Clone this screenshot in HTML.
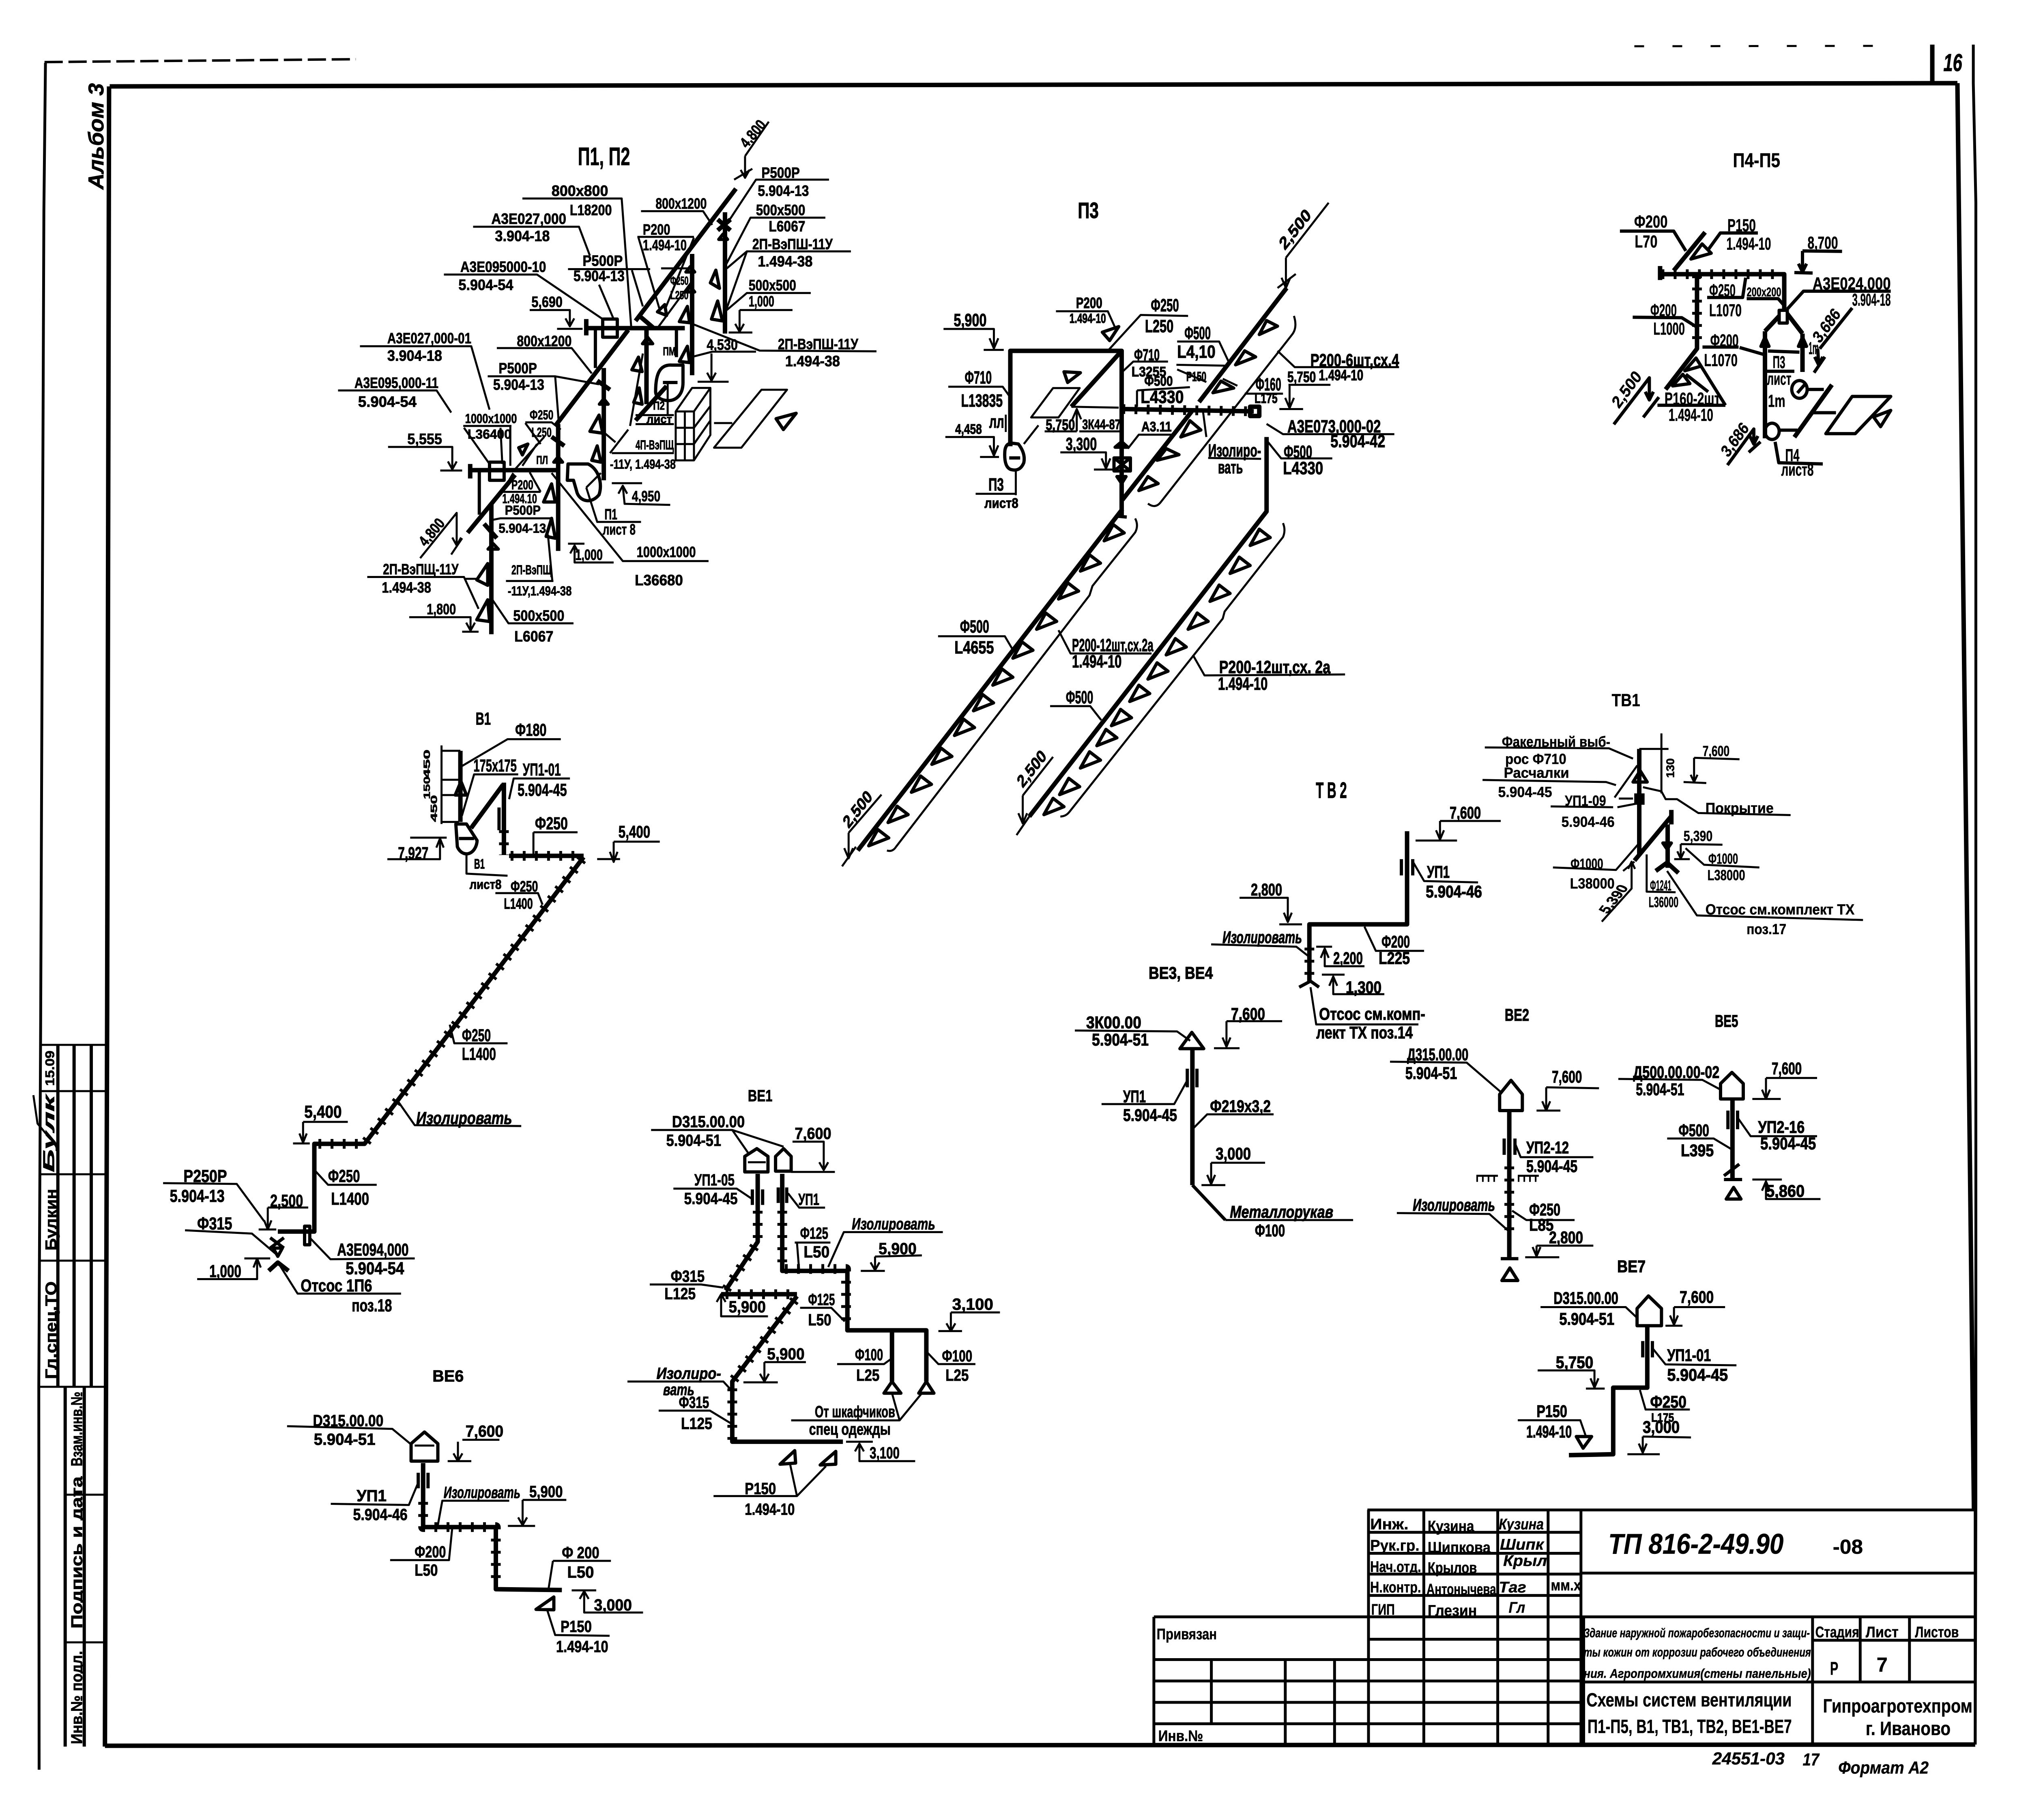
<!DOCTYPE html>
<html lang="ru"><head><meta charset="utf-8"><title>Схемы систем вентиляции</title>
<style>
html,body{margin:0;padding:0;background:#fff}
svg{display:block;width:6378px;height:4487px}
@media (min-width:3000px) and (max-width:6377px){html,body{overflow:hidden}svg{width:100vw}}
text{font-family:"Liberation Sans","DejaVu Sans",sans-serif;font-weight:700;fill:#000;stroke:#000;stroke-width:1.2}
path{fill:none;stroke:#000;stroke-width:5;vector-effect:non-scaling-stroke;stroke-linejoin:round}
.m{stroke-width:8}.b{stroke-width:11}
.c{stroke-width:24;stroke-dasharray:7 23}
.i{font-style:italic}
</style></head><body>
<svg xmlns="http://www.w3.org/2000/svg" viewBox="0 0 6378 4487" preserveAspectRatio="none">
<rect width="6378" height="4487" fill="#fff"/>

<!-- frame -->
<g>
<path style="stroke-width:7" d="M143,155 138,520 128,2500 122,3419 123,4363"/>
<path style="stroke-width:6;stroke-dasharray:45 14" d="M140,153 1119,146"/>
<path class="b" d="M345,213 6156,205M343,213 337,2500 330,4306M330,4304 6212,4301M6156,205 6208,3722"/>
<path style="stroke-width:7" d="M6206,110 6206,205 6214,500 6214,3700 6212,4301"/>
<path class="b" d="M6077,110 6077,205"/>
<path style="stroke-dasharray:24 70" d="M5140,114 5970,113"/>
<path d="M127,2576H337M127,2690H337M127,2895H337M127,3108H337M123,3419H330M205,3685H330M205,4049H330"/>
<path class="m" d="M182,2576V3419M233,2576V3419M287,2576V3419M205,3419V4306M265,3419V4306"/>
<path d="M105,2700 118,2770 150,2800"/>
<text class="i" x="6112" y="175" font-size="60" textLength="59" lengthAdjust="spacingAndGlyphs">16</text>
<text class="i" transform="translate(325,467) rotate(-90)" font-size="68" textLength="262" lengthAdjust="spacingAndGlyphs">Альбом 3</text>
<g font-size="50">
<text transform="translate(177,3400) rotate(-90)" textLength="241" lengthAdjust="spacingAndGlyphs">Гл.спец.ТО</text>
<text transform="translate(177,3083) rotate(-90)" textLength="152" lengthAdjust="spacingAndGlyphs">Булкин</text>
<text class="i" transform="translate(170,2890) rotate(-90)" textLength="190" lengthAdjust="spacingAndGlyphs">Булк</text>
<text transform="translate(170,2677) rotate(-90)" font-size="40" textLength="87" lengthAdjust="spacingAndGlyphs">15.09</text>
<text transform="translate(258,4300) rotate(-90)" textLength="230" lengthAdjust="spacingAndGlyphs">Инв.№ подл.</text>
<text transform="translate(258,4015) rotate(-90)" textLength="375" lengthAdjust="spacingAndGlyphs">Подпись и дата</text>
<text transform="translate(258,3615) rotate(-90)" textLength="184" lengthAdjust="spacingAndGlyphs">Взам.инв.№</text>
</g>
<!-- 5,400 level of B1 -->
<text x="1945" y="2065" font-size="42" textLength="100" lengthAdjust="spacingAndGlyphs">5,400</text>
<path d="M1930,2075H2075M1930,2075V2125M1878,2118H1950M1918,2100 1930,2125 1942,2100"/>
</g>

<!-- П1 П2 -->
<g transform="translate(1000,300) scale(1.148,.893)" font-size="42">
<path d="M1170,95 1235,0M1170,95V155M1140,160 1190,130M1115,290 1200,160H1400M885,247H1055L1080,285M1115,400 1185,265H1390M1120,405 1175,358H1460M1120,515 1175,358M1120,520 1175,473H1350M1155,520H1300M1155,520V580M1125,582H1190M1030,560 1210,632 1530,634M1030,648 1080,635H1200M1078,640V715M1040,718H1125M875,318H1030M878,320 935,515M1030,320 950,520M940,405H1030M930,570 1025,440M560,212H832L858,565M425,290H715L745,370M685,407H910M770,450 810,545M860,410 890,510M345,422H600L780,545M580,520H690V565M655,572H725M855,840 890,640M958,720V810M870,810H975M870,835H975M980,800H1030V935H980ZM1005,800V935M980,845H1030M980,890H1030M1030,800 1075,735V865L1030,935M980,800 1025,735H1075M1030,845 1075,785M1030,890 1075,825M1085,832H1135M1085,900 1215,740H1285L1160,900ZM800,915 850,850M805,915H975M815,885 780,855M490,625H695L750,695M465,703H650L770,725M650,705 660,835M115,620H420L470,795M55,742H325L365,803M398,840H530M400,845 470,945M500,845 505,945M527,840V950M568,830H640L665,850M568,832 610,890M535,965 620,870M560,950 600,890M192,898H368V960M335,963H395M505,1022H610M580,968 610,1022M535,970 505,1022M475,1100 500,1095H640M630,1140 642,1268M515,1268H645M280,1205 380,1080V1170M365,1195 395,1150M135,1257H400L440,1345M400,1262H435M250,1368H418V1405M395,1408H440M478,1320 522,1385H700M735,1010 775,970M735,1010 765,1105H885M640,970 835,1213H1070M805,998H888M835,1005 840,1055 965,1058M685,1165H730M703,1170V1217H810"/>
<path d="M1143,558 1155,580 1167,558M678,543 690,565 702,543M1066,693 1078,715 1090,693M356,938 368,960 380,938M368,1148 380,1170 392,1148M406,1383 418,1405 430,1383M823,1027 835,1005 847,1027M691,1192 703,1170 715,1192M1158,133 1170,155 1182,133"/>
<path class="m" d="M760,570V680M982,575V650M442,965V1085M945,720H985M1110,310l-12,15h24zM1090,410 1100,460 1075,445zM1095,495 1108,550 1078,545zM1020,400l-12,15h24zM1020,455l-12,15h24zM1012,510 1018,555 990,552zM1012,620 1018,665 990,662zM903,595l-14,18h28zM878,650 888,690 860,685zM880,735 888,780 865,775zM770,810 780,860 745,855zM765,895 775,940 750,935zM783,765l-12,15h24zM658,925l-12,15h24zM640,1000 650,1050 618,1050zM640,1095 650,1150 625,1145zM480,1165l-14,15h28zM465,1220V1280L435,1265zM465,1320 470,1380 435,1375zM550,900 575,890 560,920zM930,525 950,505 955,535zM780,545h40v50h-40zM470,940h40v50h-40zM925,745C925,690 940,670 970,672H1000V720C1000,755 980,770 960,770C940,770 925,760 925,745ZM685,945H740C770,960 780,1000 770,1030C750,1055 720,1050 710,1025L700,990H683Z"/>
<path class="m" d="M1255,820 1310,805 1275,850Z"/>
<path class="b" d="M870,550 1145,185M1115,250V585M1025,365V700M740,570H1005M735,545V590M650,840 850,575M900,570V780M783,680V990M415,962H660M417,945V985M410,1135 540,975M658,835V1185M475,1055V1415M870,825 955,730M1095,270 1130,300M1130,270 1095,300M885,540 920,570M765,715 800,740M640,870 675,895M455,1110 490,1150"/>
<text style="font-size:70px" x="712" y="120" textLength="143" lengthAdjust="spacingAndGlyphs">П1, П2</text>
<text x="1215" y="155" textLength="105" lengthAdjust="spacingAndGlyphs">Р500Р</text>
<text x="1205" y="205" textLength="140" lengthAdjust="spacingAndGlyphs">5.904-13</text>
<text x="925" y="240" textLength="140" lengthAdjust="spacingAndGlyphs">800x1200</text>
<text x="1200" y="258" textLength="135" lengthAdjust="spacingAndGlyphs">500x500</text>
<text x="1235" y="303" textLength="100" lengthAdjust="spacingAndGlyphs">L6067</text>
<text x="1190" y="352" textLength="220" lengthAdjust="spacingAndGlyphs">2П-ВэПШ-11У</text>
<text x="1205" y="400" textLength="150" lengthAdjust="spacingAndGlyphs">1.494-38</text>
<text x="1180" y="466" textLength="130" lengthAdjust="spacingAndGlyphs">500x500</text>
<text x="1180" y="510" textLength="70" lengthAdjust="spacingAndGlyphs">1,000</text>
<text x="1260" y="628" textLength="220" lengthAdjust="spacingAndGlyphs">2П-ВэПШ-11У</text>
<text x="1280" y="675" textLength="150" lengthAdjust="spacingAndGlyphs">1.494-38</text>
<text x="1065" y="630" textLength="85" lengthAdjust="spacingAndGlyphs">4,530</text>
<text x="890" y="312" textLength="75" lengthAdjust="spacingAndGlyphs">Р200</text>
<text x="890" y="355" textLength="120" lengthAdjust="spacingAndGlyphs">1.494-10</text>
<text style="font-size:32px" x="965" y="450" textLength="50" lengthAdjust="spacingAndGlyphs">Ф250</text>
<text style="font-size:32px" x="965" y="490" textLength="50" lengthAdjust="spacingAndGlyphs">L250</text>
<text x="640" y="205" textLength="155" lengthAdjust="spacingAndGlyphs">800x800</text>
<text x="690" y="258" textLength="115" lengthAdjust="spacingAndGlyphs">L18200</text>
<text x="475" y="282" textLength="205" lengthAdjust="spacingAndGlyphs">А3Е027,000</text>
<text x="485" y="330" textLength="150" lengthAdjust="spacingAndGlyphs">3.904-18</text>
<text x="725" y="398" textLength="110" lengthAdjust="spacingAndGlyphs">Р500Р</text>
<text x="700" y="440" textLength="140" lengthAdjust="spacingAndGlyphs">5.904-13</text>
<text x="390" y="415" textLength="235" lengthAdjust="spacingAndGlyphs">А3Е095000-10</text>
<text x="385" y="465" textLength="150" lengthAdjust="spacingAndGlyphs">5.904-54</text>
<text x="585" y="512" textLength="85" lengthAdjust="spacingAndGlyphs">5,690</text>
<text style="font-size:32px" x="945" y="645" textLength="35" lengthAdjust="spacingAndGlyphs">ПМ</text>
<text style="font-size:32px" x="918" y="795" textLength="32" lengthAdjust="spacingAndGlyphs">П2</text>
<text style="font-size:32px" x="900" y="832" textLength="70" lengthAdjust="spacingAndGlyphs">лист</text>
<text style="font-size:36px" x="870" y="905" textLength="105" lengthAdjust="spacingAndGlyphs">4П-ВэПЩ</text>
<text style="font-size:36px" x="800" y="958" textLength="180" lengthAdjust="spacingAndGlyphs">-11У, 1.494-38</text>
<text x="545" y="620" textLength="150" lengthAdjust="spacingAndGlyphs">800x1200</text>
<text x="495" y="695" textLength="105" lengthAdjust="spacingAndGlyphs">Р500Р</text>
<text x="480" y="740" textLength="140" lengthAdjust="spacingAndGlyphs">5.904-13</text>
<text x="190" y="612" textLength="230" lengthAdjust="spacingAndGlyphs">А3Е027,000-01</text>
<text x="190" y="660" textLength="150" lengthAdjust="spacingAndGlyphs">3.904-18</text>
<text x="100" y="735" textLength="230" lengthAdjust="spacingAndGlyphs">А3Е095,000-11</text>
<text x="110" y="787" textLength="160" lengthAdjust="spacingAndGlyphs">5.904-54</text>
<text style="font-size:36px" x="403" y="832" textLength="142" lengthAdjust="spacingAndGlyphs">1000x1000</text>
<text style="font-size:36px" x="410" y="875" textLength="120" lengthAdjust="spacingAndGlyphs">L36400</text>
<text style="font-size:36px" x="580" y="822" textLength="65" lengthAdjust="spacingAndGlyphs">Ф250</text>
<text style="font-size:36px" x="585" y="870" textLength="55" lengthAdjust="spacingAndGlyphs">L250</text>
<text x="245" y="890" textLength="95" lengthAdjust="spacingAndGlyphs">5,555</text>
<text style="font-size:32px" x="598" y="945" textLength="32" lengthAdjust="spacingAndGlyphs">ПЛ</text>
<text style="font-size:36px" x="530" y="1015" textLength="60" lengthAdjust="spacingAndGlyphs">Р200</text>
<text style="font-size:36px" x="505" y="1053" textLength="95" lengthAdjust="spacingAndGlyphs">1.494.10</text>
<text style="font-size:36px" x="512" y="1085" textLength="98" lengthAdjust="spacingAndGlyphs">Р500Р</text>
<text style="font-size:36px" x="495" y="1135" textLength="130" lengthAdjust="spacingAndGlyphs">5.904-13</text>
<text style="font-size:36px" x="530" y="1250" textLength="110" lengthAdjust="spacingAndGlyphs">2П-ВэПЩ</text>
<text style="font-size:36px" x="520" y="1308" textLength="175" lengthAdjust="spacingAndGlyphs">-11У,1.494-38</text>
<text transform="translate(295,1175) rotate(-50)" textLength="85" lengthAdjust="spacingAndGlyphs">4,800</text>
<text transform="translate(1175,75) rotate(-50)" textLength="85" lengthAdjust="spacingAndGlyphs">4,800</text>
<text x="178" y="1250" textLength="207" lengthAdjust="spacingAndGlyphs">2П-ВэПЩ-11У</text>
<text x="175" y="1300" textLength="135" lengthAdjust="spacingAndGlyphs">1.494-38</text>
<text x="298" y="1360" textLength="80" lengthAdjust="spacingAndGlyphs">1,800</text>
<text x="535" y="1378" textLength="140" lengthAdjust="spacingAndGlyphs">500x500</text>
<text x="538" y="1435" textLength="107" lengthAdjust="spacingAndGlyphs">L6067</text>
<text x="785" y="1098" textLength="35" lengthAdjust="spacingAndGlyphs">П1</text>
<text x="780" y="1140" textLength="90" lengthAdjust="spacingAndGlyphs">лист 8</text>
<text x="873" y="1202" textLength="162" lengthAdjust="spacingAndGlyphs">1000x1000</text>
<text x="868" y="1280" textLength="132" lengthAdjust="spacingAndGlyphs">L36680</text>
<text x="860" y="1048" textLength="78" lengthAdjust="spacingAndGlyphs">4,950</text>
<text x="705" y="1210" textLength="75" lengthAdjust="spacingAndGlyphs">1,000</text>
</g>

<!-- П3 -->
<g transform="translate(2600,400) scale(1.148,1.148)" font-size="38">
<path d="M1258,205 1375,87M1258,205V270M1235,270 1285,240M880,733Q900,745 915,730L1275,370Q1290,355 1280,330M165,1478Q180,1482 190,1470L720,930 728,910 845,795Q855,780 845,765M640,1405Q655,1405 665,1395L1085,980 1090,965 1250,805Q1258,790 1250,775M60,1440 150,1358M60,1440V1495M42,1512 80,1470M537,1360 620,1277M537,1360V1420M520,1445 555,1405M305,1018H488L512,1050M635,1005 668,1055H890M1003,1058 1035,1102 1420,1100M612,1168H722L752,1198M320,358H458V400M430,403H485M670,525 800,527M560,548 620,485H693L635,548ZM333,482H482L503,505M325,590H458V630M420,633H472M518,660V715M408,712H520M540,605 580,565M628,320H770L790,355M770,405 860,328 990,330M960,385H1075L1105,435M958,435 1100,437M960,445 1040,472M810,450 840,428H935M850,490 995,483M850,490V525M597,578H685M685,530V578M692,578H805M825,615 855,585H945M640,623H765V658M732,660H790M1045,635 1190,637M1030,530 1040,590M1085,465 1125,480M1145,497H1250M1235,405 1282,440H1568M1265,478H1380M1268,480V528M1240,530H1305M1205,562 1250,584H1555M1208,600 1245,636H1385"/>
<path d="M1246,248 1258,270 1270,248M446,378 458,400 470,378M446,608 458,630 470,608M753,636 765,658 777,636M1256,506 1268,528 1280,506M48,1473 60,1495 72,1473M525,1398 537,1420 549,1398M673,552 685,530 697,552"/>
<path class="m" d="M1185,370l20-30 30,12zM1120,435l25-30 30,13zM1058,495l22-25 35,15zM970,590l25-35 30,20zM905,640l25-25 35,13zM855,705l25-30 28,15zM760,813l25-35 30,18zM695,878l25-35 30,18zM635,938l25-35 30,18zM575,1003l25-35 30,18zM510,1065l25-35 30,18zM455,1123l25-35 30,18zM402,1178l25-35 30,18zM350,1231l25-35 30,18zM288,1293l25-35 30,18zM232,1353l25-35 30,18zM168,1418l25-35 30,18zM115,1468l25-35 30,18zM1160,823l25-35 30,18zM1105,883l25-35 30,18zM1050,943l25-35 30,18zM990,1003l25-35 30,18zM930,1058l25-35 30,18zM880,1110l25-35 30,18zM830,1158l25-35 30,18zM780,1210l25-35 30,18zM740,1253l25-35 30,18zM695,1301l25-35 30,18zM638,1358l25-35 30,18zM595,1401l25-35 30,18zM650,450 695,452 660,473ZM755,365 800,353 775,383ZM488,620Q490,605 505,603L525,605Q545,625 540,645Q530,665 505,660Q485,655 488,620ZM500,635H530M787,635h45v28h-45zM787,635 832,663M832,635 787,663M790,612H825L808,600ZM795,675H820L808,690ZM795,760 822,762"/>
<path class="b" d="M1020,515 1260,270M810,725 1000,535M810,745 85,1478M555,1405 1205,750V590M503,610V405H808V760M808,405 670,525M810,530 1170,535M1160,525h25v20h-25z"/>
<path class="c" d="M810,530 1170,535"/>
<text style="font-size:48px" x="688" y="120" textLength="57" lengthAdjust="spacingAndGlyphs">П3</text>
<text transform="translate(1255,190) rotate(-45)" textLength="105" lengthAdjust="spacingAndGlyphs">2,500</text>
<text transform="translate(60,1432) rotate(-45)" textLength="95" lengthAdjust="spacingAndGlyphs">2,500</text>
<text transform="translate(537,1345) rotate(-45)" textLength="95" lengthAdjust="spacingAndGlyphs">2,500</text>
<text x="365" y="1010" textLength="80" lengthAdjust="spacingAndGlyphs">Ф500</text>
<text x="350" y="1055" textLength="108" lengthAdjust="spacingAndGlyphs">L4655</text>
<text x="672" y="1050" textLength="223" lengthAdjust="spacingAndGlyphs">Р200-12шт,сх.2а</text>
<text x="672" y="1085" textLength="136" lengthAdjust="spacingAndGlyphs">1.494-10</text>
<text x="1075" y="1097" textLength="305" lengthAdjust="spacingAndGlyphs">Р200-12шт,сх. 2а</text>
<text x="1072" y="1133" textLength="136" lengthAdjust="spacingAndGlyphs">1.494-10</text>
<text x="655" y="1162" textLength="75" lengthAdjust="spacingAndGlyphs">Ф500</text>
<text x="348" y="352" textLength="90" lengthAdjust="spacingAndGlyphs">5,900</text>
<text x="378" y="475" textLength="74" lengthAdjust="spacingAndGlyphs">Ф710</text>
<text x="368" y="525" textLength="114" lengthAdjust="spacingAndGlyphs">L13835</text>
<text x="445" y="570" textLength="50" lengthAdjust="spacingAndGlyphs">лл|</text>
<text style="font-size:30px" x="352" y="583" textLength="73" lengthAdjust="spacingAndGlyphs">4,458</text>
<text x="443" y="705" textLength="42" lengthAdjust="spacingAndGlyphs">П3</text>
<text style="font-size:30px" x="432" y="742" textLength="93" lengthAdjust="spacingAndGlyphs">лист8</text>
<text style="font-size:32px" x="683" y="313" textLength="72" lengthAdjust="spacingAndGlyphs">Р200</text>
<text style="font-size:28px" x="665" y="345" textLength="100" lengthAdjust="spacingAndGlyphs">1.494-10</text>
<text x="888" y="320" textLength="77" lengthAdjust="spacingAndGlyphs">Ф250</text>
<text x="872" y="365" textLength="78" lengthAdjust="spacingAndGlyphs">L250</text>
<text x="980" y="380" textLength="72" lengthAdjust="spacingAndGlyphs">Ф500</text>
<text x="960" y="420" textLength="105" lengthAdjust="spacingAndGlyphs">L4,10</text>
<text style="font-size:28px" x="985" y="470" textLength="55" lengthAdjust="spacingAndGlyphs">Р150</text>
<text style="font-size:34px" x="842" y="425" textLength="70" lengthAdjust="spacingAndGlyphs">Ф710</text>
<text style="font-size:30px" x="835" y="460" textLength="95" lengthAdjust="spacingAndGlyphs">L3255</text>
<text style="font-size:30px" x="870" y="480" textLength="78" lengthAdjust="spacingAndGlyphs">Ф500</text>
<text x="860" y="517" textLength="118" lengthAdjust="spacingAndGlyphs">L4330</text>
<text style="font-size:32px" x="600" y="575" textLength="80" lengthAdjust="spacingAndGlyphs">5,750</text>
<text style="font-size:30px" x="700" y="573" textLength="105" lengthAdjust="spacingAndGlyphs">3К44-87</text>
<text style="font-size:30px" x="862" y="578" textLength="83" lengthAdjust="spacingAndGlyphs">А3.11</text>
<text x="655" y="618" textLength="85" lengthAdjust="spacingAndGlyphs">3,300</text>
<text x="1045" y="632" textLength="145" lengthAdjust="spacingAndGlyphs">Изолиро-</text>
<text x="1072" y="668" textLength="68" lengthAdjust="spacingAndGlyphs">вать</text>
<text x="1175" y="490" textLength="70" lengthAdjust="spacingAndGlyphs">Ф160</text>
<text style="font-size:30px" x="1172" y="517" textLength="63" lengthAdjust="spacingAndGlyphs">L175</text>
<text x="1325" y="438" textLength="243" lengthAdjust="spacingAndGlyphs">Р200-6шт,сх.4</text>
<text style="font-size:32px" x="1348" y="468" textLength="122" lengthAdjust="spacingAndGlyphs">1.494-10</text>
<text style="font-size:32px" x="1262" y="472" textLength="78" lengthAdjust="spacingAndGlyphs">5,750</text>
<text x="1262" y="580" textLength="256" lengthAdjust="spacingAndGlyphs">А3Е073,000-02</text>
<text x="1380" y="612" textLength="150" lengthAdjust="spacingAndGlyphs">5.904-42</text>
<text x="1252" y="635" textLength="78" lengthAdjust="spacingAndGlyphs">Ф500</text>
<text x="1250" y="670" textLength="110" lengthAdjust="spacingAndGlyphs">L4330</text>
<text style="font-size:48px" x="1340" y="1365" textLength="85" lengthAdjust="spacingAndGlyphs">Т В 2</text>
</g>

<!-- П4-П5 -->
<g transform="translate(4900,300) scale(.638,.574)" font-size="75">
<path class="b" d="M570,640 725,475M500,655H1115V810M503,620V680M685,655V975L530,1150M1020,900 1090,835M1130,825 1205,910M1020,900V1360M1205,910V1075M1165,1355 1350,1130"/>
<path class="c" d="M510,655H1100M685,660V960"/>
<path class="m" d="M305,470H570L630,555M740,550 800,478H985M735,755H910L925,670M930,760H1085L1115,790M368,840 610,842 680,880M712,968H890M895,970 1015,1000M1205,555 1400,557M1205,555V645M1165,648 1255,650M1130,805 1210,728H1640M1035,985 1190,990M1290,975 1450,800M1280,975 1285,1045M1262,1078 1315,1010M1025,1072H1165M1180,1165 1215,1130M1225,1150H1310M1260,1250H1370M1085,1325H1180M1070,1375 1088,1465 1305,1470M1320,1340 1450,1180H1640L1465,1340ZM490,1218H825M680,1015 825,1218M630,1085 740,1160M275,1300 450,1100V1195M420,1270 497,1183M835,1475 965,1320V1385M940,1420 998,1375M1555,1268 1640,1240 1590,1310ZM655,590 710,525 755,565ZM625,1070 680,1015 705,1050ZM565,1135 615,1085 650,1125ZM1000,965 1020,925 1040,965ZM1185,965 1205,925 1225,965ZM1090,810h40v55h-40zM1190,1112a38,38 0 1 0 .1,0ZM1055,1295a35,35 0 1 0 .1,0ZM1185,610 1205,645 1225,610M1265,1010 1285,1045 1305,1010M430,1160 450,1195 470,1160M945,1350 965,1385 985,1350"/>
<text style="font-size:85px" x="862" y="195" textLength="233" lengthAdjust="spacingAndGlyphs">П4-П5</text>
<text x="375" y="455" textLength="165" lengthAdjust="spacingAndGlyphs">Ф200</text>
<text x="378" y="540" textLength="112" lengthAdjust="spacingAndGlyphs">L70</text>
<text x="835" y="470" textLength="140" lengthAdjust="spacingAndGlyphs">Р150</text>
<text x="830" y="550" textLength="220" lengthAdjust="spacingAndGlyphs">1.494-10</text>
<text x="745" y="750" textLength="130" lengthAdjust="spacingAndGlyphs">Ф250</text>
<text x="745" y="835" textLength="160" lengthAdjust="spacingAndGlyphs">L1070</text>
<text style="font-size:55px" x="930" y="750" textLength="170" lengthAdjust="spacingAndGlyphs">200x200</text>
<text x="455" y="835" textLength="130" lengthAdjust="spacingAndGlyphs">Ф200</text>
<text x="470" y="915" textLength="155" lengthAdjust="spacingAndGlyphs">L1000</text>
<text x="750" y="965" textLength="140" lengthAdjust="spacingAndGlyphs">Ф200</text>
<text x="720" y="1050" textLength="165" lengthAdjust="spacingAndGlyphs">L1070</text>
<text x="1230" y="545" textLength="150" lengthAdjust="spacingAndGlyphs">8,700</text>
<text x="1255" y="720" textLength="385" lengthAdjust="spacingAndGlyphs">А3Е024.000</text>
<text x="1450" y="790" textLength="190" lengthAdjust="spacingAndGlyphs">3.904-18</text>
<text transform="translate(1290,955) rotate(-50)" textLength="165" lengthAdjust="spacingAndGlyphs">3,686</text>
<text x="1235" y="998" textLength="50" lengthAdjust="spacingAndGlyphs">1m</text>
<text x="1058" y="1058" textLength="62" lengthAdjust="spacingAndGlyphs">П3</text>
<text x="1030" y="1130" textLength="120" lengthAdjust="spacingAndGlyphs">лист</text>
<text x="1035" y="1225" textLength="85" lengthAdjust="spacingAndGlyphs">1m</text>
<text x="1120" y="1458" textLength="70" lengthAdjust="spacingAndGlyphs">П4</text>
<text x="1100" y="1520" textLength="160" lengthAdjust="spacingAndGlyphs">лист8</text>
<text x="525" y="1215" textLength="275" lengthAdjust="spacingAndGlyphs">Р160-2шт</text>
<text x="545" y="1285" textLength="220" lengthAdjust="spacingAndGlyphs">1.494-10</text>
<text transform="translate(300,1235) rotate(-50)" textLength="180" lengthAdjust="spacingAndGlyphs">2,500</text>
<text transform="translate(838,1445) rotate(-50)" textLength="165" lengthAdjust="spacingAndGlyphs">3,686</text>
</g>

<!-- В1 -->
<g transform="translate(400,1700) scale(.957,1.02)" font-size="42">
<path d="M1100,185 1250,120H1425M1033,148H1095M1033,135V325M1030,218H1095M1030,255H1100M1030,320H1090M1100,305 1140,205H1285M1255,265 1270,215H1455M1115,400V445L1250,450M855,410H1028V360M930,358H1050M1335,345H1480M1335,345V400M1210,492H1350L1365,520M1060,810 1075,855H1250M885,990 945,1053 1295,1055M578,1045H725M578,1045V1095M545,1097H600M620,1165 660,1197H820M118,1193 360,1195 450,1285M462,1252H595M462,1252V1305M432,1305H490M190,1307 410,1315 490,1365M600,1325 668,1377 945,1375M230,1425H427V1375M385,1375H470M500,1390 560,1460H900"/>
<path d="M1016,382 1028,360 1040,382M566,1073 578,1095 590,1073M450,1283 462,1305 474,1283M415,1397 427,1375 439,1397"/>
<path class="m" d="M1078,255H1115L1097,222ZM1080,325H1115L1150,365A35,35 0 0 1 1085,380ZM1090,360H1140M1222,285V340M583,1297h17v45h-17zM470,1350 515,1325M470,1325 515,1350M480,1350H510L495,1370Z"/>
<path class="b" d="M1095,148V320M1130,335 1235,230M1238,225V400M1255,402H1500M1500,405 780,1098H615V1310H495M465,1405 495,1385 530,1405"/>
<path class="c" d="M1260,402H1495M1495,410 780,1098H625M1238,340V400"/>
<text x="1145" y="85" textLength="50" lengthAdjust="spacingAndGlyphs">В1</text>
<text x="1275" y="112" textLength="103" lengthAdjust="spacingAndGlyphs">Ф180</text>
<text style="font-size:30px" transform="translate(995,215) rotate(-90)" textLength="70" lengthAdjust="spacingAndGlyphs">450</text>
<text style="font-size:30px" transform="translate(995,265) rotate(-90)" textLength="55" lengthAdjust="spacingAndGlyphs">150</text>
<text style="font-size:30px" transform="translate(1018,320) rotate(-90)" textLength="65" lengthAdjust="spacingAndGlyphs">450</text>
<text x="1138" y="198" textLength="142" lengthAdjust="spacingAndGlyphs">175x175</text>
<text x="1300" y="208" textLength="125" lengthAdjust="spacingAndGlyphs">УП1-01</text>
<text x="1283" y="257" textLength="162" lengthAdjust="spacingAndGlyphs">5.904-45</text>
<text style="font-size:34px" x="1140" y="433" textLength="35" lengthAdjust="spacingAndGlyphs">В1</text>
<text style="font-size:32px" x="1125" y="482" textLength="105" lengthAdjust="spacingAndGlyphs">лист8</text>
<text x="890" y="410" textLength="100" lengthAdjust="spacingAndGlyphs">7,927</text>
<text x="1340" y="338" textLength="108" lengthAdjust="spacingAndGlyphs">Ф250</text>
<text style="font-size:36px" x="1260" y="488" textLength="90" lengthAdjust="spacingAndGlyphs">Ф250</text>
<text style="font-size:36px" x="1238" y="530" textLength="95" lengthAdjust="spacingAndGlyphs">L1400</text>
<text x="1100" y="850" textLength="95" lengthAdjust="spacingAndGlyphs">Ф250</text>
<text x="1100" y="895" textLength="112" lengthAdjust="spacingAndGlyphs">L1400</text>
<text class="i" x="950" y="1050" textLength="315" lengthAdjust="spacingAndGlyphs">Изолировать</text>
<text x="582" y="1035" textLength="123" lengthAdjust="spacingAndGlyphs">5,400</text>
<text x="660" y="1190" textLength="105" lengthAdjust="spacingAndGlyphs">Ф250</text>
<text x="670" y="1245" textLength="125" lengthAdjust="spacingAndGlyphs">L1400</text>
<text x="185" y="1190" textLength="143" lengthAdjust="spacingAndGlyphs">Р250Р</text>
<text x="140" y="1238" textLength="180" lengthAdjust="spacingAndGlyphs">5.904-13</text>
<text x="470" y="1250" textLength="108" lengthAdjust="spacingAndGlyphs">2,500</text>
<text x="230" y="1305" textLength="115" lengthAdjust="spacingAndGlyphs">Ф315</text>
<text x="690" y="1368" textLength="235" lengthAdjust="spacingAndGlyphs">А3Е094,000</text>
<text x="718" y="1413" textLength="192" lengthAdjust="spacingAndGlyphs">5.904-54</text>
<text x="270" y="1420" textLength="105" lengthAdjust="spacingAndGlyphs">1,000</text>
<text x="570" y="1455" textLength="235" lengthAdjust="spacingAndGlyphs">Отсос 1П6</text>
<text x="738" y="1503" textLength="132" lengthAdjust="spacingAndGlyphs">поз.18</text>
</g>

<!-- ВЕ1, ВЕ6 -->
<g transform="translate(900,2650) scale(1.403,.957)" font-size="42">
<path d="M818,142H1000L1035,200M1000,142 1115,185M1135,172H1205V245M1132,250H1230M868,293H1010L1045,320M1125,305 1150,342H1208M1140,432H1220M1145,432 1150,505M1215,495 1250,405H1472M1320,468 1425,465M1320,468V503M1288,505H1342M815,540H930L980,548M975,565V622H1080M1152,600H1222L1252,635M1490,612H1600M1490,612V660M1462,660H1515M1072,740H1165M1072,740V790M1025,792H1102M1235,745H1340L1358,730M1437,715 1462,745H1545M765,790H980L1000,815M835,865H950L1000,900M1132,890H1375L1425,820M1375,890 1358,820M1255,945H1315M1285,950V995H1410M958,1085H1145M1130,1005 1145,1085 1210,1008M2,905 238,912 278,950M395,940H478M385,945V995M362,995H415M100,1105 275,1108 298,1045M340,1160 350,1097H500M530,1095H628M530,1095V1160M497,1162H558M233,1250H365L372,1170M598,1252H728M598,1252 588,1325M640,1328H695M668,1330V1385H800M585,1378 603,1443 725,1445M1035,225H1075M288,955H332"/>
<path d="M1195,225 1205,245 1215,225M1310,483 1320,503 1330,483M1480,640 1490,660 1500,640M1062,770 1072,790 1082,770M375,975 385,995 395,975M520,1140 530,1160 540,1140M1275,970 1285,950 1295,970M658,1350 668,1330 678,1350M965,585 975,565 985,585"/>
<path class="m" d="M1028,210 1055,190 1080,210V250H1028ZM1097,210 1115,190 1132,210V248H1097ZM1045,295V335M1068,295V335M1103,290V330M1122,290V330M1340,820H1378L1358,790ZM1418,820H1452L1435,790ZM1107,1003 1140,968 1142,1000ZM1197,1005 1232,970 1232,1003ZM280,950 310,920 340,950V995H280ZM296,1025V1065M318,1025V1065M560,1377 600,1345 600,1378Z"/>
<path class="b" d="M1057,255V430L985,555M975,565H1145M1112,255V505H1258V658H1435V790M1358,658V790M1145,570 1000,790V945H1248M307,1000V1165H470V1325L618,1327"/>
<path class="c" d="M1057,350V430L985,555M985,565H1140M1112,350V500H1255V650M1140,580 1000,790V940M307,1100V1165H470V1320"/>
<text x="1035" y="68" textLength="55" lengthAdjust="spacingAndGlyphs">ВЕ1</text>
<text x="865" y="135" textLength="163" lengthAdjust="spacingAndGlyphs">D315.00.00</text>
<text x="852" y="183" textLength="123" lengthAdjust="spacingAndGlyphs">5.904-51</text>
<text x="1140" y="165" textLength="82" lengthAdjust="spacingAndGlyphs">7,600</text>
<text x="915" y="285" textLength="90" lengthAdjust="spacingAndGlyphs">УП1-05</text>
<text x="892" y="333" textLength="120" lengthAdjust="spacingAndGlyphs">5.904-45</text>
<text x="1148" y="335" textLength="47" lengthAdjust="spacingAndGlyphs">УП1</text>
<text x="1152" y="422" textLength="63" lengthAdjust="spacingAndGlyphs">Ф125</text>
<text x="1160" y="470" textLength="58" lengthAdjust="spacingAndGlyphs">L50</text>
<text class="i" x="1268" y="398" textLength="187" lengthAdjust="spacingAndGlyphs">Изолировать</text>
<text x="1328" y="462" textLength="85" lengthAdjust="spacingAndGlyphs">5,900</text>
<text x="862" y="533" textLength="76" lengthAdjust="spacingAndGlyphs">Ф315</text>
<text x="848" y="578" textLength="70" lengthAdjust="spacingAndGlyphs">L125</text>
<text x="992" y="612" textLength="83" lengthAdjust="spacingAndGlyphs">5,900</text>
<text x="1170" y="593" textLength="60" lengthAdjust="spacingAndGlyphs">Ф125</text>
<text x="1170" y="645" textLength="52" lengthAdjust="spacingAndGlyphs">L50</text>
<text x="1493" y="605" textLength="92" lengthAdjust="spacingAndGlyphs">3,100</text>
<text x="1078" y="733" textLength="84" lengthAdjust="spacingAndGlyphs">5,900</text>
<text x="1275" y="735" textLength="63" lengthAdjust="spacingAndGlyphs">Ф100</text>
<text x="1278" y="788" textLength="52" lengthAdjust="spacingAndGlyphs">L25</text>
<text x="1470" y="738" textLength="68" lengthAdjust="spacingAndGlyphs">Ф100</text>
<text x="1478" y="788" textLength="52" lengthAdjust="spacingAndGlyphs">L25</text>
<text class="i" x="830" y="783" textLength="145" lengthAdjust="spacingAndGlyphs">Изолиро-</text>
<text class="i" x="845" y="825" textLength="70" lengthAdjust="spacingAndGlyphs">вать</text>
<text x="880" y="858" textLength="68" lengthAdjust="spacingAndGlyphs">Ф315</text>
<text x="885" y="912" textLength="70" lengthAdjust="spacingAndGlyphs">L125</text>
<text x="1185" y="882" textLength="180" lengthAdjust="spacingAndGlyphs">От шкафчиков</text>
<text x="1172" y="927" textLength="183" lengthAdjust="spacingAndGlyphs">спец одежды</text>
<text x="1308" y="988" textLength="67" lengthAdjust="spacingAndGlyphs">3,100</text>
<text x="1028" y="1080" textLength="70" lengthAdjust="spacingAndGlyphs">Р150</text>
<text x="1028" y="1133" textLength="112" lengthAdjust="spacingAndGlyphs">1.494-10</text>
<text x="328" y="790" textLength="70" lengthAdjust="spacingAndGlyphs">ВЕ6</text>
<text x="60" y="905" textLength="158" lengthAdjust="spacingAndGlyphs">D315.00.00</text>
<text x="62" y="953" textLength="138" lengthAdjust="spacingAndGlyphs">5.904-51</text>
<text x="402" y="932" textLength="85" lengthAdjust="spacingAndGlyphs">7,600</text>
<text x="158" y="1098" textLength="67" lengthAdjust="spacingAndGlyphs">УП1</text>
<text x="150" y="1147" textLength="122" lengthAdjust="spacingAndGlyphs">5.904-46</text>
<text class="i" x="353" y="1090" textLength="172" lengthAdjust="spacingAndGlyphs">Изолировать</text>
<text x="545" y="1088" textLength="75" lengthAdjust="spacingAndGlyphs">5,900</text>
<text x="288" y="1243" textLength="70" lengthAdjust="spacingAndGlyphs">Ф200</text>
<text x="288" y="1290" textLength="52" lengthAdjust="spacingAndGlyphs">L50</text>
<text x="618" y="1245" textLength="84" lengthAdjust="spacingAndGlyphs">Ф 200</text>
<text x="630" y="1295" textLength="60" lengthAdjust="spacingAndGlyphs">L50</text>
<text x="690" y="1380" textLength="85" lengthAdjust="spacingAndGlyphs">3,000</text>
<text x="615" y="1435" textLength="70" lengthAdjust="spacingAndGlyphs">Р150</text>
<text x="605" y="1487" textLength="117" lengthAdjust="spacingAndGlyphs">1.494-10</text>
</g>

<!-- ТВ2, ВЕ3, ВЕ2, ВЕ5, ВЕ7 -->
<g transform="translate(3300,1900) scale(1.786,1.148)" font-size="36">
<path d="M688,108H795M688,108V148M645,150H718M640,195 660,237 755,240M335,273H420V325M405,330H445M555,335 575,387H660M285,373 435,378 458,400M470,378H498M485,382V420H555M480,438H520M500,442V480H590M460,465 470,545H650M45,558 225,560 248,580M312,538H410M312,538V593M290,596H335M92,716H220L243,665M252,770 278,738H395M285,842H380M285,842V888M268,890H310M310,965H535M600,625 735,627 795,690M875,680 968,682M875,680V730M858,730H900M820,800 830,830H958M752,870H790M825,870H862M612,950 775,952 810,990M815,945 840,965H925M858,1020H958M858,1020V1043M838,1045H898M1002,662 1150,664 1182,685M1262,660H1352M1262,660V705M1238,705H1288M1212,745 1235,785H1352M1088,790H1170L1200,812M1238,878H1290M1262,882V920H1358M865,1152H1015L1035,1175M1100,1152H1190M1100,1152V1190M1085,1192H1115M1062,1240 1085,1275 1210,1277M860,1288H960V1325M945,1327H978M1040,1330 1050,1372H1128M1045,1430 1130,1432M1045,1430V1465M1018,1468H1075M825,1395H935L945,1430"/>
<path d="M681,128 688,148 695,128M413,305 420,325 427,305M305,573 312,593 319,573M278,868 285,888 292,868M868,710 875,730 882,710M1255,685 1262,705 1269,685M851,1023 858,1043 865,1023M1093,1170 1100,1190 1107,1170M953,1305 960,1325 967,1305M1038,1445 1045,1465 1052,1445M478,402 485,382 492,402M493,462 500,442 507,462M1255,902 1262,882 1269,902"/>
<path class="c" style="stroke-width:14;stroke-dasharray:4 10" d="M752,877H790M825,877H862"/>
<path class="m" d="M620,190V225M640,190V225M230,597H272L251,562ZM243,640V680M260,640V680M252,890 310,965M793,695 813,665 833,695V730H793ZM801,790V825M820,790V825M795,1048H826M797,1095H825L811,1068ZM1182,672 1202,648 1222,672V705H1182ZM1195,730V770M1212,730V770M1188,870 1215,845M1188,878H1220M1192,920H1218L1205,895ZM1035,1155 1055,1128 1078,1155V1192H1035ZM1045,1225V1260M1062,1225V1260M928,1430H955L940,1455ZM440,465 460,452 475,465"/>
<path class="b" d="M630,130V330H458V455M252,600V890M810,733V1048M1203,708V878M1053,1195V1325H993V1468L915,1470"/>
<path class="c" d="M458,380V440M810,850V1000"/>
<text x="705" y="103" textLength="55" lengthAdjust="spacingAndGlyphs">7,600</text>
<text x="665" y="230" textLength="40" lengthAdjust="spacingAndGlyphs">УП1</text>
<text x="663" y="272" textLength="99" lengthAdjust="spacingAndGlyphs">5.904-46</text>
<text x="355" y="268" textLength="55" lengthAdjust="spacingAndGlyphs">2,800</text>
<text x="585" y="380" textLength="50" lengthAdjust="spacingAndGlyphs">Ф200</text>
<text x="580" y="415" textLength="55" lengthAdjust="spacingAndGlyphs">L225</text>
<text class="i" x="305" y="370" textLength="140" lengthAdjust="spacingAndGlyphs">Изолировать</text>
<text x="500" y="415" textLength="52" lengthAdjust="spacingAndGlyphs">2,200</text>
<text x="522" y="478" textLength="63" lengthAdjust="spacingAndGlyphs">1,300</text>
<text x="475" y="535" textLength="187" lengthAdjust="spacingAndGlyphs">Отсос см.комп-</text>
<text x="470" y="575" textLength="170" lengthAdjust="spacingAndGlyphs">лект ТХ поз.14</text>
<text x="175" y="447" textLength="113" lengthAdjust="spacingAndGlyphs">ВЕ3, ВЕ4</text>
<text x="65" y="553" textLength="97" lengthAdjust="spacingAndGlyphs">3К00.00</text>
<text x="75" y="590" textLength="100" lengthAdjust="spacingAndGlyphs">5.904-51</text>
<text x="320" y="535" textLength="60" lengthAdjust="spacingAndGlyphs">7,600</text>
<text x="130" y="712" textLength="40" lengthAdjust="spacingAndGlyphs">УП1</text>
<text x="130" y="752" textLength="95" lengthAdjust="spacingAndGlyphs">5.904-45</text>
<text x="283" y="733" textLength="107" lengthAdjust="spacingAndGlyphs">Ф219x3,2</text>
<text x="293" y="835" textLength="62" lengthAdjust="spacingAndGlyphs">3,000</text>
<text class="i" x="318" y="960" textLength="182" lengthAdjust="spacingAndGlyphs">Металлорукав</text>
<text x="362" y="1000" textLength="53" lengthAdjust="spacingAndGlyphs">Ф100</text>
<text x="802" y="537" textLength="43" lengthAdjust="spacingAndGlyphs">ВЕ2</text>
<text x="630" y="622" textLength="108" lengthAdjust="spacingAndGlyphs">Д315.00.00</text>
<text x="627" y="662" textLength="91" lengthAdjust="spacingAndGlyphs">5.904-51</text>
<text x="885" y="670" textLength="53" lengthAdjust="spacingAndGlyphs">7,600</text>
<text x="840" y="822" textLength="75" lengthAdjust="spacingAndGlyphs">УП2-12</text>
<text x="840" y="862" textLength="90" lengthAdjust="spacingAndGlyphs">5.904-45</text>
<text class="i" x="640" y="945" textLength="145" lengthAdjust="spacingAndGlyphs">Изолировать</text>
<text x="845" y="955" textLength="55" lengthAdjust="spacingAndGlyphs">Ф250</text>
<text x="845" y="988" textLength="43" lengthAdjust="spacingAndGlyphs">L85</text>
<text x="880" y="1015" textLength="60" lengthAdjust="spacingAndGlyphs">2,800</text>
<text x="1172" y="550" textLength="41" lengthAdjust="spacingAndGlyphs">ВЕ5</text>
<text x="1028" y="660" textLength="152" lengthAdjust="spacingAndGlyphs">Д500.00.00-02</text>
<text x="1033" y="697" textLength="85" lengthAdjust="spacingAndGlyphs">5.904-51</text>
<text x="1272" y="652" textLength="53" lengthAdjust="spacingAndGlyphs">7,600</text>
<text x="1248" y="778" textLength="82" lengthAdjust="spacingAndGlyphs">УП2-16</text>
<text x="1252" y="813" textLength="98" lengthAdjust="spacingAndGlyphs">5.904-45</text>
<text x="1108" y="785" textLength="54" lengthAdjust="spacingAndGlyphs">Ф500</text>
<text x="1112" y="828" textLength="58" lengthAdjust="spacingAndGlyphs">L395</text>
<text x="1262" y="915" textLength="68" lengthAdjust="spacingAndGlyphs">5,860</text>
<text x="1000" y="1077" textLength="50" lengthAdjust="spacingAndGlyphs">ВЕ7</text>
<text x="888" y="1145" textLength="114" lengthAdjust="spacingAndGlyphs">D315.00.00</text>
<text x="898" y="1190" textLength="97" lengthAdjust="spacingAndGlyphs">5.904-51</text>
<text x="1110" y="1143" textLength="60" lengthAdjust="spacingAndGlyphs">7,600</text>
<text x="1088" y="1268" textLength="77" lengthAdjust="spacingAndGlyphs">УП1-01</text>
<text x="1088" y="1310" textLength="107" lengthAdjust="spacingAndGlyphs">5.904-45</text>
<text x="892" y="1283" textLength="66" lengthAdjust="spacingAndGlyphs">5,750</text>
<text x="1058" y="1368" textLength="64" lengthAdjust="spacingAndGlyphs">Ф250</text>
<text style="font-size:26px" x="1060" y="1398" textLength="40" lengthAdjust="spacingAndGlyphs">L175</text>
<text x="1045" y="1422" textLength="65" lengthAdjust="spacingAndGlyphs">3,000</text>
<text x="858" y="1388" textLength="54" lengthAdjust="spacingAndGlyphs">Р150</text>
<text x="840" y="1432" textLength="80" lengthAdjust="spacingAndGlyphs">1.494-10</text>
</g>

<!-- ТВ1 -->
<g transform="translate(4600,1650) scale(.893,.51)" font-size="70">
<path d="M78,378 515,382 600,432M70,535 505,545 540,560M310,663 530,667M545,667 610,650M535,620 615,465M700,310V600M622,385H725M550,625H600M635,570 700,590 715,628H755L830,695 1155,705M815,428 975,435M815,428V545M778,545 858,550M318,958 540,970 622,840M768,845 915,848M768,845V915M745,918H800M785,865 850,945 1045,958M648,895V1075L750,1078M720,975 825,1190 1410,1212M490,1220 595,1060V930M565,975 605,930"/>
<path d="M803,510 815,545 827,510M756,880 768,915 780,880M583,965 595,930 607,965"/>
<path class="m" d="M600,545H650L625,490ZM610,600V655M635,600V655M705,840H735L720,870Z"/>
<path class="b" d="M622,385V900M605,925 735,710M735,680V750M722,750V960M680,975 720,935 760,985"/>
<text style="font-size:85px" x="525" y="178" textLength="100" lengthAdjust="spacingAndGlyphs">ТВ1</text>
<text x="138" y="375" textLength="382" lengthAdjust="spacingAndGlyphs">Факельный выб-</text>
<text x="150" y="458" textLength="215" lengthAdjust="spacingAndGlyphs">рос Ф710</text>
<text x="145" y="525" textLength="230" lengthAdjust="spacingAndGlyphs">Расчалки</text>
<text x="125" y="618" textLength="190" lengthAdjust="spacingAndGlyphs">5.904-45</text>
<text x="360" y="660" textLength="145" lengthAdjust="spacingAndGlyphs">УП1-09</text>
<text x="348" y="762" textLength="187" lengthAdjust="spacingAndGlyphs">5.904-46</text>
<text x="855" y="695" textLength="240" lengthAdjust="spacingAndGlyphs">Покрытие</text>
<text transform="translate(745,525) rotate(-90)" style="font-size:40px" textLength="95" lengthAdjust="spacingAndGlyphs">130</text>
<text x="845" y="420" textLength="95" lengthAdjust="spacingAndGlyphs">7,600</text>
<text x="380" y="965" textLength="115" lengthAdjust="spacingAndGlyphs">Ф1000</text>
<text x="378" y="1060" textLength="157" lengthAdjust="spacingAndGlyphs">L38000</text>
<text x="778" y="830" textLength="102" lengthAdjust="spacingAndGlyphs">5,390</text>
<text x="865" y="940" textLength="105" lengthAdjust="spacingAndGlyphs">Ф1000</text>
<text x="862" y="1020" textLength="133" lengthAdjust="spacingAndGlyphs">L38000</text>
<text x="660" y="1070" textLength="75" lengthAdjust="spacingAndGlyphs">Ф1241</text>
<text x="655" y="1150" textLength="105" lengthAdjust="spacingAndGlyphs">L36000</text>
<text x="855" y="1185" textLength="525" lengthAdjust="spacingAndGlyphs">Отсос см.комплект ТХ</text>
<text x="1000" y="1280" textLength="140" lengthAdjust="spacingAndGlyphs">поз.17</text>
<text transform="translate(510,1185) rotate(-60)" style="font-size:55px" textLength="150" lengthAdjust="spacingAndGlyphs">5,390</text>
</g>

<!-- title block -->
<g transform="translate(3560,3700) scale(1.722,.502)" font-size="76">
<path class="b" style="stroke-width:7" d="M430,45H1540M432,45V1195M533,45V1195M668,45V1195M760,45V1195M820,45V1195M432,155H820M432,258H820M432,360H820M432,465H820M820,355H1540M40,570H1540M40,570V1195M432,680H820M40,780H820M40,885H820M40,990H820M40,1095H820M145,780V1095M280,780V1195M370,780V1195M825,570V1195M1243,570V1195M1330,570V885M1420,570V885M1243,685H1540M825,890H1540M1540,0V1197"/>
<text x="435" y="140" textLength="70" lengthAdjust="spacingAndGlyphs">Инж.</text>
<text x="540" y="150" textLength="85" lengthAdjust="spacingAndGlyphs">Кузина</text>
<text class="i" x="670" y="140" textLength="82" lengthAdjust="spacingAndGlyphs">Кузина</text>
<text x="435" y="245" textLength="90" lengthAdjust="spacingAndGlyphs">Рук.гр.</text>
<text x="540" y="255" textLength="115" lengthAdjust="spacingAndGlyphs">Шипкова</text>
<text class="i" x="672" y="240" textLength="80" lengthAdjust="spacingAndGlyphs">Шипк</text>
<text x="435" y="350" textLength="93" lengthAdjust="spacingAndGlyphs">Нач.отд.</text>
<text x="540" y="355" textLength="90" lengthAdjust="spacingAndGlyphs">Крылов</text>
<text class="i" x="678" y="320" textLength="80" lengthAdjust="spacingAndGlyphs">Крыл</text>
<text x="435" y="450" textLength="93" lengthAdjust="spacingAndGlyphs">Н.контр.</text>
<text x="538" y="460" textLength="127" lengthAdjust="spacingAndGlyphs">Антонычева</text>
<text class="i" x="670" y="450" textLength="50" lengthAdjust="spacingAndGlyphs">Таг</text>
<text x="765" y="440" textLength="55" lengthAdjust="spacingAndGlyphs">мм.х</text>
<text x="437" y="560" textLength="43" lengthAdjust="spacingAndGlyphs">ГИП</text>
<text x="540" y="565" textLength="90" lengthAdjust="spacingAndGlyphs">Глезин</text>
<text class="i" x="688" y="550" textLength="30" lengthAdjust="spacingAndGlyphs">Гл</text>
<text class="i" style="font-size:140px" x="870" y="260" textLength="320" lengthAdjust="spacingAndGlyphs">ТП 816-2-49.90</text>
<text style="font-size:100px" x="1280" y="260" textLength="55" lengthAdjust="spacingAndGlyphs">-08</text>
<text x="45" y="680" textLength="110" lengthAdjust="spacingAndGlyphs">Привязан</text>
<text x="48" y="1180" textLength="82" lengthAdjust="spacingAndGlyphs">Инв.№</text>
<text style="font-size:62px" class="i" x="825" y="670" textLength="413" lengthAdjust="spacingAndGlyphs">Здание наружной пожаробезопасности и защи-</text>
<text style="font-size:62px" class="i" x="825" y="765" textLength="415" lengthAdjust="spacingAndGlyphs">ты кожин от коррозии рабочего объединения</text>
<text style="font-size:62px" class="i" x="825" y="870" textLength="415" lengthAdjust="spacingAndGlyphs">ния. Агропромхимия(стены панельные)</text>
<text x="1248" y="670" textLength="80" lengthAdjust="spacingAndGlyphs">Стадия</text>
<text x="1340" y="670" textLength="60" lengthAdjust="spacingAndGlyphs">Лист</text>
<text x="1430" y="670" textLength="80" lengthAdjust="spacingAndGlyphs">Листов</text>
<text style="font-size:90px" x="1275" y="855" textLength="15" lengthAdjust="spacingAndGlyphs">Р</text>
<text style="font-size:100px" x="1360" y="840" textLength="20" lengthAdjust="spacingAndGlyphs">7</text>
<text style="font-size:95px" x="830" y="1010" textLength="375" lengthAdjust="spacingAndGlyphs">Схемы систем вентиляции</text>
<text style="font-size:95px" x="832" y="1140" textLength="373" lengthAdjust="spacingAndGlyphs">П1-П5, В1, ТВ1, ТВ2, ВЕ1-ВЕ7</text>
<text style="font-size:95px" x="1262" y="1040" textLength="273" lengthAdjust="spacingAndGlyphs">Гипроагротехпром</text>
<text style="font-size:95px" x="1340" y="1150" textLength="155" lengthAdjust="spacingAndGlyphs">г. Иваново</text>
<text class="i" style="font-size:85px" x="1060" y="1295" textLength="132" lengthAdjust="spacingAndGlyphs">24551-03</text>
<text class="i" style="font-size:85px" x="1225" y="1300" textLength="30" lengthAdjust="spacingAndGlyphs">17</text>
<text class="i" style="font-size:85px" x="1290" y="1340" textLength="165" lengthAdjust="spacingAndGlyphs">Формат А2</text>
</g>
</svg>
</body></html>
